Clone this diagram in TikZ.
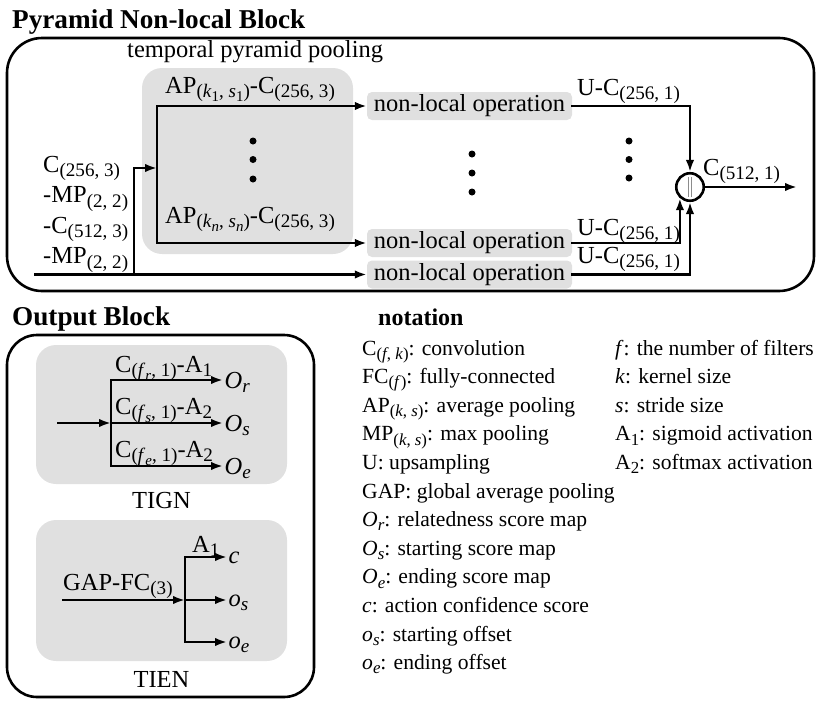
\documentclass[tikz,border=0pt]{standalone}
\usepackage{graphicx}
\usepackage{fontspec}
\setmainfont{Liberation Serif}
\usetikzlibrary{arrows.meta,fit,calc}
\definecolor{boxgrey}{RGB}{224,224,224}
\definecolor{concatgrey}{RGB}{140,140,140}
\newcommand\bodysize{\fontsize{24.5}{29}\selectfont}
\newcommand\notesize{\fontsize{21.6}{26}\selectfont}
\newcommand\titlesize{\fontsize{27.2}{32}\selectfont\bfseries}
\newcommand\notsize{\fontsize{24}{30}\selectfont\bfseries}
\newcommand\sbs[1]{\raisebox{-0.2em}{\scalebox{0.78}{#1}}}
\newcommand\ital[1]{\textit{#1}}
\begin{document}
\begin{tikzpicture}[x=1pt,y=-1pt,font=\bodysize,
  line/.style={line width=2.6pt,line cap=rect},
  arr/.style={line width=2.6pt,line cap=rect,-{Latex[length=12pt,width=8.5pt]}},
  lbl/.style={inner sep=0pt,anchor=base west},
  note/.style={inner sep=0pt,anchor=base west,font=\notesize},
  nlbox/.style={fill=boxgrey,rounded corners=5pt,minimum width=205pt,minimum height=28pt,inner sep=0pt},
  grp/.style={fill=boxgrey,rounded corners=20pt,inner sep=0pt},
  outer/.style={draw,line width=2.6pt,inner sep=0pt},
  dot/.style={circle,fill,inner sep=0pt,minimum size=7pt}]
\useasboundingbox (0,0) rectangle (822,707);

% ---------------- Pyramid Non-local Block ----------------
\node[lbl,font=\titlesize] (tpnb) at (12,28) {Pyramid Non-local Block};
\node[outer,rounded corners=35pt,fit={(7,38) (814,291)}] (pnb) {};
\node[lbl] (ttpp) at (127,57) {temporal pyramid pooling};
\node[grp,fit={(142,68) (353,254)}] (tpp) {};
\node[lbl] (ap1) at (165,93) {AP\sbs{(\ital{k}\sbs{1}, \ital{s}\sbs{1})}-C\sbs{(256, 3)}};
\node[lbl] (apn) at (165,223) {AP\sbs{(\ital{k}\sbs{\ital{n}}, \ital{s}\sbs{\ital{n}})}-C\sbs{(256, 3)}};

\node[nlbox] (nl1) at (469.5,106) {non-local operation};
\node[nlbox] (nl2) at (469.5,243) {non-local operation};
\node[nlbox] (nl3) at (469.5,274.5) {non-local operation};

\coordinate (bt) at (157,106);
\coordinate (bb) at (157,243);
\coordinate (bm) at (157,168);
\coordinate (in0) at (35,274.5);
\coordinate (inv) at (134,274.5);
\coordinate (invt) at (134,168);

\draw[arr] (bb) -- (bt) -- (nl1.west);
\draw[arr] (bb) -- (nl2.west);
\draw[arr] (in0) -- (nl3.west);
\draw[arr] (inv) -- (invt) -- (bm);

\node[lbl] (l1) at (43,172) {C\sbs{(256, 3)}};
\node[lbl] (l2) at (43,202.5) {-MP\sbs{(2, 2)}};
\node[lbl] (l3) at (43,233) {-C\sbs{(512, 3)}};
\node[lbl] (l4) at (43,263.5) {-MP\sbs{(2, 2)}};

\node[dot] (da1) at (253,141) {};
\node[dot] (da2) at (253,159.5) {};
\node[dot] (da3) at (253,179) {};
\node[dot] (db1) at (472,154) {};
\node[dot] (db2) at (472,173) {};
\node[dot] (db3) at (472,192) {};
\node[dot] (dc1) at (629,141) {};
\node[dot] (dc2) at (629,159.5) {};
\node[dot] (dc3) at (629,178) {};

\node[circle,draw,line width=2.6pt,fill=white,minimum size=27.5pt,inner sep=0pt] (cc) at (690,187) {};
\draw[concatgrey,line width=1.1pt] ($(cc.center)+(-1.6,-10)$) -- ($(cc.center)+(-1.6,10)$);
\draw[concatgrey,line width=1.1pt] ($(cc.center)+(1.6,-10)$) -- ($(cc.center)+(1.6,10)$);

\draw[arr] (nl1.east) -| (cc.north);
\draw[arr] (nl2.east) -| (cc.228.2);
\draw[arr] (nl3.east) -| (cc.south);
\coordinate (outp) at (797,187);
\draw[arr] (cc.east) -- (outp);

\node[lbl] (uc1) at (577,95) {U-C\sbs{(256, 1)}};
\node[lbl] (uc2) at (577,235) {U-C\sbs{(256, 1)}};
\node[lbl] (uc3) at (577,263) {U-C\sbs{(256, 1)}};
\node[lbl] (c512) at (703,175) {C\sbs{(512, 1)}};

% ---------------- Output Block ----------------
\node[lbl,font=\titlesize] (tob) at (12,325) {Output Block};
\node[outer,rounded corners=30pt,fit={(7,335) (314,697)}] (ob) {};
\node[grp,fit={(36,345) (287,484)}] (tign) {};
\node[grp,fit={(36,520) (287,661)}] (tien) {};
\node[inner sep=0pt,anchor=base] (tignl) at (161.5,508) {TIGN};
\node[inner sep=0pt,anchor=base] (tienl) at (161.5,687) {TIEN};

\coordinate (g1) at (111,380);
\coordinate (g2) at (111,423);
\coordinate (g3) at (111,466);
\coordinate (gin) at (58,423);
\node[lbl,inner xsep=1.5pt] (or) at (223,388) {\ital{O}\sbs{\ital{r}}};
\node[lbl,inner xsep=1.5pt] (os) at (223,431) {\ital{O}\sbs{\ital{s}}};
\node[lbl,inner xsep=1.5pt] (oe) at (223,474) {\ital{O}\sbs{\ital{e}}};
\draw[line] (g1) -- (g3);
\draw[arr] (gin) -- (g2);
\draw[arr] (g1) -- (or.west |- g1);
\draw[arr] (g2) -- (os.west |- g2);
\draw[arr] (g3) -- (oe.west |- g3);
\node[lbl] (lr) at (115,372) {C\sbs{(\ital{f}\sbs{\ital{r}}, 1)}-A\sbs{1}};
\node[lbl] (ls) at (115,414) {C\sbs{(\ital{f}\sbs{\ital{s}}, 1)}-A\sbs{2}};
\node[lbl] (le) at (115,457) {C\sbs{(\ital{f}\sbs{\ital{e}}, 1)}-A\sbs{2}};

\coordinate (e1) at (185,557);
\coordinate (e2) at (185,600);
\coordinate (e3) at (185,642);
\coordinate (ein) at (63,600);
\node[lbl,inner xsep=1.5pt] (oc) at (227,563) {\ital{c}};
\node[lbl,inner xsep=1.5pt] (oos) at (227,606) {\ital{o}\sbs{\ital{s}}};
\node[lbl,inner xsep=1.5pt] (ooe) at (227,648) {\ital{o}\sbs{\ital{e}}};
\draw[line] (e1) -- (e3);
\draw[arr] (ein) -- (e2);
\draw[arr] (e1) -- (oc.west |- e1);
\draw[arr] (e2) -- (oos.west |- e2);
\draw[arr] (e3) -- (ooe.west |- e3);
\node[lbl] (gap) at (63,590) {GAP-FC\sbs{(3)}};
\node[lbl] (a1) at (192,552) {A\sbs{1}};

% ---------------- notation ----------------
\node[lbl,font=\notsize] (nt) at (378,325) {notation};
\node[note] (n1) at (362,355) {C\sbs{(\ital{f}, \ital{k})}: convolution};
\node[note] (n2) at (362,383.6) {FC\sbs{(\ital{f})}: fully-connected};
\node[note] (n3) at (362,412.2) {AP\sbs{(\ital{k}, \ital{s})}: average pooling};
\node[note] (n4) at (362,440.8) {MP\sbs{(\ital{k}, \ital{s})}: max pooling};
\node[note] (n5) at (362,469.4) {U: upsampling};
\node[note] (n6) at (362,498) {GAP: global average pooling};
\node[note] (n7) at (362,526.6) {\ital{O}\sbs{\ital{r}}: relatedness score map};
\node[note] (n8) at (362,555.2) {\ital{O}\sbs{\ital{s}}: starting score map};
\node[note] (n9) at (362,583.8) {\ital{O}\sbs{\ital{e}}: ending score map};
\node[note] (n10) at (362,612.4) {\ital{c}: action confidence score};
\node[note] (n11) at (362,641) {\ital{o}\sbs{\ital{s}}: starting offset};
\node[note] (n12) at (362,669.6) {\ital{o}\sbs{\ital{e}}: ending offset};
\node[note] (m1) at (615,355) {\ital{f}: the number of filters};
\node[note] (m2) at (615,383.6) {\ital{k}: kernel size};
\node[note] (m3) at (615,412.2) {\ital{s}: stride size};
\node[note] (m4) at (615,440.8) {A\sbs{1}: sigmoid activation};
\node[note] (m5) at (615,469.4) {A\sbs{2}: softmax activation};
\end{tikzpicture}
\end{document}
